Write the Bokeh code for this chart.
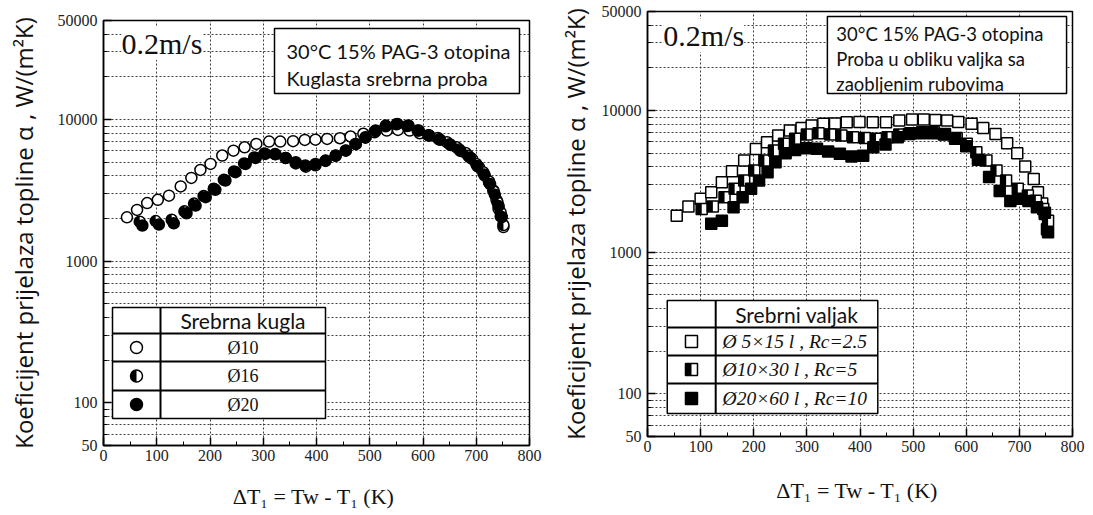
import math
from bokeh.plotting import figure
from bokeh.models import Range1d, FixedTicker, NumeralTickFormatter, Label, BoxAnnotation, Spacer
from bokeh.layouts import row, column
from bokeh.embed import file_html
from bokeh.resources import INLINE

# ---------------- data ----------------
x_ticks = [0, 100, 200, 300, 400, 500, 600, 700, 800]
x_minor = [50, 150, 250, 350, 450, 550, 650, 750]
y_ticks = [50, 100, 1000, 10000, 50000]
y_minor = [60, 70, 80, 90, 200, 300, 400, 500, 600, 700, 800, 900,
           2000, 3000, 4000, 5000, 6000, 7000, 8000, 9000, 20000, 30000, 40000]

# left panel: silver spheres
sphere_labels = ["Ø10", "Ø16", "Ø20"]
sphere10_x = [44, 63, 82, 102, 123, 145, 165, 182, 201, 223, 244, 265, 287, 311, 332, 356, 378, 398, 420, 444,
              464, 488, 509, 532, 553, 575, 594, 611, 628, 645, 663, 680, 692, 705, 716, 724, 732, 738, 742, 746, 751]
sphere10_y = [2040, 2300, 2570, 2710, 2900, 3370, 3870, 4410, 4860, 5570, 6030, 6370, 6730, 6990, 6990, 7030, 7180,
              7210, 7300, 7380, 7590, 7930, 8130, 8360, 8450, 8360, 8000, 7710, 7420, 6920, 6370, 5810, 5280, 4610,
              4020, 3610, 3160, 2710, 2340, 2070, 1740]
sphere16_x = [68, 98, 128, 152, 170, 188, 207, 226, 245, 264, 283, 302, 322, 342, 361, 380, 398, 417, 436, 455,
              474, 492, 511, 530, 550, 570, 590, 610, 630, 650, 668, 685, 700, 713, 724, 733, 740, 746, 751]
sphere16_y = [1900, 1920, 1960, 2250, 2550, 2880, 3250, 3750, 4300, 4900, 5400, 5750, 5700, 5350, 4900, 4650, 4750,
              5100, 5550, 6050, 6700, 7450, 8300, 8950, 9250, 9000, 8350, 7750, 7250, 6700, 6150, 5550, 4850, 4250,
              3650, 3100, 2600, 2200, 1800]
sphere20_x = [73, 104, 132, 156, 173, 192, 210, 229, 248, 267, 286, 304, 323, 342, 361, 379, 398, 417, 436, 455,
              473, 492, 511, 530, 552, 573, 592, 612, 632, 652, 670, 688, 702, 715, 726, 735, 742, 748]
sphere20_y = [1785, 1815, 1850, 2180, 2470, 2830, 3190, 3710, 4250, 4860, 5360, 5720, 5680, 5360, 5000, 4740, 4860,
              5130, 5570, 6030, 6730, 7500, 8360, 9060, 9310, 9060, 8360, 7700, 7200, 6600, 6000, 5400, 4700, 4100,
              3500, 2950, 2450, 2050]

# right panel: silver cylinders with rounded edges
cyl_labels = ["Ø 5×15 l , Rc=2.5", "Ø10×30 l , Rc=5", "Ø20×60 l , Rc=10"]
cyl5_x = [55, 77, 100, 120, 140, 159, 182, 204, 225, 246, 268, 290, 309, 331, 353, 375, 399, 424, 449, 474,
          498, 520, 542, 564, 585, 610, 632, 655, 677, 696, 711, 727, 735, 743, 748, 752]
cyl5_y = [1810, 2100, 2380, 2650, 3120, 3730, 4430, 5360, 5970, 6650, 7220, 7540, 7830, 8050, 8100, 8260, 8300,
          8260, 8260, 8490, 8630, 8630, 8560, 8490, 8300, 8050, 7540, 6840, 5870, 5000, 4020, 3290, 2650, 2210,
          1860, 1450]
cyl10_x = [102, 123, 145, 164, 182, 201, 220, 238, 257, 278, 300, 322, 344, 365, 387, 409, 430, 452, 474, 495,
           517, 539, 560, 582, 601, 619, 638, 657, 675, 697, 716, 731, 745, 754]
cyl10_y = [2020, 2100, 2440, 2800, 3210, 3770, 4430, 5220, 5820, 6310, 6770, 6910, 6770, 6650, 6470, 6410, 6310,
           6470, 6770, 6910, 7030, 7030, 6830, 6410, 5820, 5080, 4430, 3770, 3210, 2800, 2510, 2310, 2020, 1670]
cyl20_x = [120, 140, 162, 179, 195, 210, 226, 241, 260, 278, 299, 319, 340, 362, 384, 406, 425, 448, 471, 492,
           514, 536, 558, 579, 600, 622, 643, 663, 683, 700, 717, 733, 748, 754]
cyl20_y = [1590, 1670, 2080, 2440, 2800, 3210, 3670, 4320, 5000, 5270, 5420, 5370, 5130, 4950, 4740, 4800, 5510,
           5760, 6470, 6830, 6910, 6910, 6770, 6310, 5600, 4500, 3400, 2700, 2300, 2380, 2300, 2080, 1900, 1380]

# texts
y_title = "Koeficijent prijelaza topline α , W/(m²K)"
x_title = "ΔT₁ = Tw - T₁  (K)"
speed_text = "0.2m/s"
left_box_lines = ["30°C 15% PAG-3 otopina", "Kuglasta srebrna proba"]
right_box_lines = ["30°C 15% PAG-3 otopina", "Proba u obliku valjka sa", "zaobljenim rubovima"]
left_table_title = "Srebrna kugla"
right_table_title = "Srebrni valjak"

SANS = "Lato"
TITLE_SANS = "Open Sans"
SERIF = "Liberation Serif"
GRID = "#3c3c3c"


def build_panel(width, height, bl, br, bt, bb, ylab_standoff, xlab_standoff):
    fw = width - bl - br
    fh = height - bt - bb
    p = figure(width=width, height=height, x_range=Range1d(x_ticks[0], x_ticks[-1]),
               y_range=Range1d(y_ticks[0], y_ticks[-1]), y_axis_type="log",
               output_backend="svg", toolbar_location=None,
               min_border_left=bl, min_border_right=br, min_border_top=bt, min_border_bottom=bb)
    p.background_fill_color = "white"
    p.border_fill_color = "white"
    p.outline_line_color = "black"
    p.outline_line_width = 1.5
    p.xaxis.ticker = FixedTicker(ticks=x_ticks, minor_ticks=x_minor)
    p.yaxis.ticker = FixedTicker(ticks=y_ticks, minor_ticks=y_minor)
    p.yaxis.formatter = NumeralTickFormatter(format="0")
    for ax in (p.xaxis, p.yaxis):
        ax.axis_line_color = "black"
        ax.axis_line_width = 1.5
        ax.major_tick_in = 8
        ax.major_tick_out = 0
        ax.minor_tick_in = 4
        ax.minor_tick_out = 0
        ax.major_tick_line_color = "black"
        ax.major_tick_line_width = 1.5
        ax.minor_tick_line_color = "black"
        ax.major_label_text_font = SERIF
        ax.major_label_text_font_size = "16px"
        ax.major_label_text_color = "#222222"
    p.xaxis.major_label_standoff = 4
    p.yaxis.major_label_standoff = 6
    p.yaxis.axis_label = y_title
    p.yaxis.axis_label_text_font = TITLE_SANS
    p.yaxis.axis_label_text_font_size = "24px"
    p.yaxis.axis_label_text_font_style = "normal"
    p.yaxis.axis_label_text_color = "#111111"
    p.yaxis.axis_label_standoff = ylab_standoff
    p.xaxis.axis_label = x_title
    p.xaxis.axis_label_text_font = SERIF
    p.xaxis.axis_label_text_font_size = "22px"
    p.xaxis.axis_label_text_font_style = "normal"
    p.xaxis.axis_label_text_color = "#111111"
    p.xaxis.axis_label_standoff = xlab_standoff
    p.xgrid.ticker = FixedTicker(ticks=x_ticks[1:-1])
    p.xgrid.grid_line_color = GRID
    p.xgrid.grid_line_dash = "2 2"
    p.xgrid.grid_line_width = 1
    p.ygrid.grid_line_color = GRID
    p.ygrid.grid_line_dash = "2 2"
    p.ygrid.minor_grid_line_color = GRID
    p.ygrid.minor_grid_line_dash = "2 2"
    lo, hi = math.log10(y_ticks[0]), math.log10(y_ticks[-1])

    def fx(u):
        return x_ticks[0] + u / fw * (x_ticks[-1] - x_ticks[0])

    def fy(v):
        return 10 ** (lo + (fh - v) / fh * (hi - lo))

    return p, fx, fy, fw


def draw_marker(p, xs, ys, shape, fill, size, dx_per_px, level="glyph"):
    rs = []
    fc = "black" if fill == "full" else "white"
    mk = "circle" if shape == "circle" else "square"
    rs.append(p.scatter(xs, ys, marker=mk, size=size, fill_color=fc, line_color="black", line_width=1.5))
    if fill == "half":
        if shape == "circle":
            rs.append(p.wedge(x=xs, y=ys, radius=size / 2, radius_units="screen",
                              start_angle=math.pi / 2, end_angle=3 * math.pi / 2,
                              fill_color="black", line_color=None))
        else:
            rs.append(p.rect(x=[x - size / 4 * dx_per_px for x in xs], y=ys, width=size / 2, height=size,
                             width_units="screen", height_units="screen", fill_color="black", line_color=None))
    for r in rs:
        r.level = level


def text(p, fx, fy, u, v, s, font, size, align="left", baseline="middle", style="normal", bg=None):
    p.add_layout(Label(x=fx(u), y=fy(v), text=s, text_font=font, text_font_size=f"{size}px",
                       text_align=align, text_baseline=baseline, text_font_style=style,
                       text_color="#111111", background_fill_color=bg))


def box(p, fx, fy, u0, u1, v0, v1, lw=1.5):
    p.add_layout(BoxAnnotation(left=fx(u0), right=fx(u1), top=fy(v0), bottom=fy(v1),
                               fill_color="white", fill_alpha=1.0, line_color="black", line_alpha=1.0,
                               line_width=lw))


def table(p, fx, fy, u0, u1, v0, v1, udiv, rows_v):
    box(p, fx, fy, u0, u1, v0, v1)
    x0 = [fx(udiv)] + [fx(u0)] * len(rows_v)
    x1 = [fx(udiv)] + [fx(u1)] * len(rows_v)
    y0 = [fy(v0)] + [fy(v) for v in rows_v]
    y1 = [fy(v1)] + [fy(v) for v in rows_v]
    r = p.segment(x0=x0, y0=y0, x1=x1, y1=y1, line_color="black", line_width=2)
    r.level = "overlay"


# ---------------- left panel ----------------
pl, fxl, fyl, fwl = build_panel(555, 505, 103, 26, 11, 69, 15, 20)
dxl = (x_ticks[-1] - x_ticks[0]) / fwl
draw_marker(pl, sphere10_x, sphere10_y, "circle", "open", 11, dxl)
draw_marker(pl, sphere16_x, sphere16_y, "circle", "half", 11, dxl)
draw_marker(pl, sphere20_x, sphere20_y, "circle", "full", 11, dxl)

text(pl, fxl, fyl, 18, 23, speed_text, SERIF, 30, bg="white")
box(pl, fxl, fyl, 171, 416, 8, 73)
text(pl, fxl, fyl, 183, 30, left_box_lines[0], SANS, 20)
text(pl, fxl, fyl, 183, 57, left_box_lines[1], SANS, 20)

lt_rows = [313, 341, 370]
table(pl, fxl, fyl, 9, 222, 287, 398, 57, lt_rows)
text(pl, fxl, fyl, 139.5, 300, left_table_title, SANS, 21, align="center")
row_c = [(lt_rows[0] + lt_rows[1]) / 2, (lt_rows[1] + lt_rows[2]) / 2, (lt_rows[2] + 398) / 2]
for lab, vc, fill in zip(sphere_labels, row_c, ["open", "half", "full"]):
    text(pl, fxl, fyl, 139.5, vc, lab, SERIF, 18, align="center")
    draw_marker(pl, [fxl(33)], [fyl(vc)], "circle", fill, 12, dxl, level="overlay")

# ---------------- right panel ----------------
pr, fxr, fyr, fwr = build_panel(535, 514, 87, 18, 11, 78, 7, 23)
dxr = (x_ticks[-1] - x_ticks[0]) / fwr
draw_marker(pr, cyl5_x, cyl5_y, "square", "open", 11, dxr)
draw_marker(pr, cyl10_x, cyl10_y, "square", "half", 11, dxr)
draw_marker(pr, cyl20_x, cyl20_y, "square", "full", 11, dxr)

text(pr, fxr, fyr, 16, 24, speed_text, SERIF, 30, bg="white")
box(pr, fxr, fyr, 182, 424, 5, 82)
for vline, s in zip([22, 47, 72], right_box_lines):
    text(pr, fxr, fyr, 191, vline, s, SANS, 18.5)

rt_rows = [316, 344, 372]
table(pr, fxr, fyr, 20, 233, 289, 402, 69, rt_rows)
text(pr, fxr, fyr, 151, 302.5, right_table_title, SANS, 21, align="center")
row_c = [(rt_rows[0] + rt_rows[1]) / 2, (rt_rows[1] + rt_rows[2]) / 2, (rt_rows[2] + 402) / 2]
for lab, vc, fill in zip(cyl_labels, row_c, ["open", "half", "full"]):
    text(pr, fxr, fyr, 76, vc, lab, SERIF, 19.5, style="italic")
    draw_marker(pr, [fxr(44.5)], [fyr(vc)], "square", fill, 12, dxr, level="overlay")

layout = row(column(Spacer(height=9), pl), pr)
open("out.html", "w").write(file_html(layout, INLINE))
